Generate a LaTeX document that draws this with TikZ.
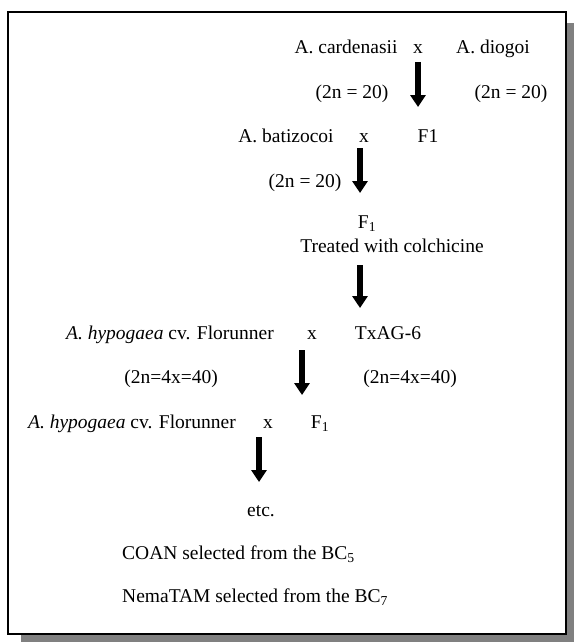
\documentclass[tikz,border=0pt]{standalone}
\usepackage{fontspec}
\setmainfont{Liberation Serif}
\usetikzlibrary{arrows.meta}

\begin{document}
\begin{tikzpicture}[x=1pt, y=-1pt,
    lbl/.style={anchor=base, inner sep=0pt, font=\fontsize{19.5}{23}\selectfont},
    lft/.style={lbl, anchor=base west},
    flow/.style={line width=6pt, -{Triangle[width=15pt, length=12pt]}}]
            % Frame
            \useasboundingbox (0,0) rectangle (574,642);
            \fill[black!50] (21,23) rectangle (574,642);
            \draw[line width=2pt, fill=white] (8,12) rectangle (566,634);

            % Nodes
            \node[lbl] (card) at (346,53) {A. cardenasii};
            \node[lbl] (x1) at (418,53) {x};
            \node[lbl] (diog) at (493,53) {A. diogoi};
            \node[lbl] (cardn) at (352,98) {(2n = 20)};
            \node[lbl] (diogn) at (511,98) {(2n = 20)};

            \node[lbl] (bati) at (286,142) {A. batizocoi};
            \node[lbl] (x2) at (364,142) {x};
            \node[lbl] (fa) at (428,142) {F1};
            \node[lbl] (batin) at (305,187) {(2n = 20)};

            \node[lbl] (fb) at (367,228) {F\textsubscript{1}};
            \node[lbl] (colch) at (392,252) {Treated with colchicine};

            \node[lbl] (flor) at (170,339) {\textit{A. hypogaea} cv. Florunner};
            \node[lbl] (x3) at (312,339) {x};
            \node[lbl] (txag) at (388,339) {TxAG-6};
            \node[lbl] (florn) at (171,383) {(2n=4x=40)};
            \node[lbl] (txagn) at (410,383) {(2n=4x=40)};

            \node[lbl] (florb) at (132,428) {\textit{A. hypogaea} cv. Florunner};
            \node[lbl] (x4) at (268,428) {x};
            \node[lbl] (fc) at (320,428) {F\textsubscript{1}};

            \node[lbl] (etc) at (261,516) {etc.};
            \node[lft] (coan) at (122,559) {COAN selected from the BC\textsubscript{5}};
            \node[lft] (nema) at (122,602) {NemaTAM selected from the BC\textsubscript{7}};

            % Edges
            \coordinate (s1) at (418,62);  \coordinate (e1) at (418,107);
            \coordinate (s2) at (360,148); \coordinate (e2) at (360,193);
            \coordinate (s3) at (360,265); \coordinate (e3) at (360,308);
            \coordinate (s4) at (302,350); \coordinate (e4) at (302,395);
            \coordinate (s5) at (259,437); \coordinate (e5) at (259,482);
            \draw[flow] (s1) -- (e1);
            \draw[flow] (s2) -- (e2);
            \draw[flow] (s3) -- (e3);
            \draw[flow] (s4) -- (e4);
            \draw[flow] (s5) -- (e5);
        \end{tikzpicture}
\end{document}
